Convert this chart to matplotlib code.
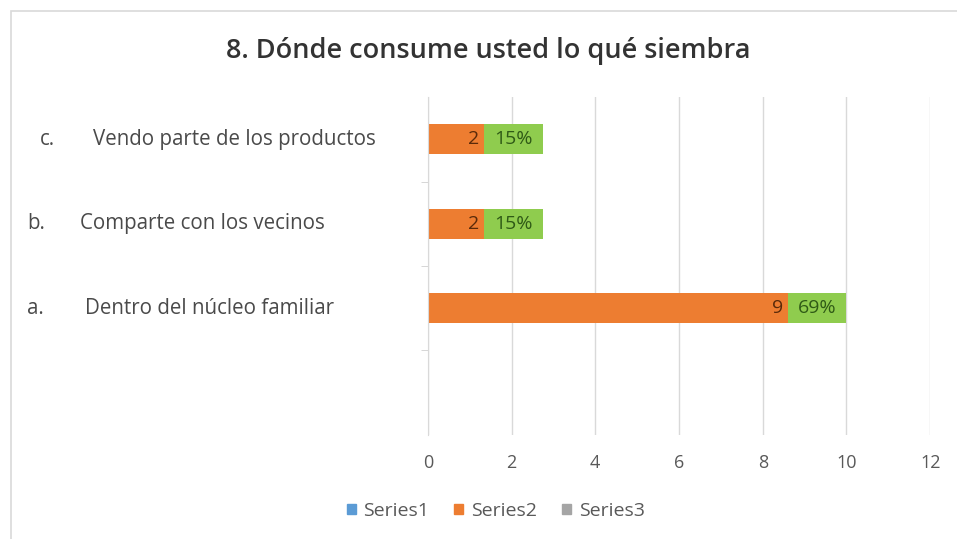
import matplotlib.pyplot as plt
import numpy as np
from matplotlib.patches import Rectangle

# data (bottom slot is empty in the original)
letters = ["", "a.", "b.", "c."]
categories = ["", "Dentro del núcleo familiar", "Comparte con los vecinos", "Vendo parte de los productos"]
series2 = [0, 8.6, 1.35, 1.35]
series3 = [0, 1.4, 1.4, 1.4]
labels2 = ["", "9", "2", "2"]
labels3 = ["", "69%", "15%", "15%"]
xticks = [0, 2, 4, 6, 8, 10, 12]

plt.rcParams['font.family'] = ['Open Sans', 'DejaVu Sans']

fig = plt.figure(figsize=(9.57, 5.39), dpi=100)
ax = fig.add_axes([0.447, 0.193, 0.525, 0.627])

y = np.arange(len(categories))
h = 0.36
ax.barh(y, series2, height=h, color="#ED7D31")
ax.barh(y, series3, left=series2, height=h, color="#8FCC4E")

for i in range(1, len(categories)):
    ax.text(series2[i] - 0.12, y[i], labels2[i], ha="right", va="center",
            fontsize=14, color="#5a2a0a")
    ax.text(series2[i] + series3[i] / 2, y[i], labels3[i], ha="center", va="center",
            fontsize=14, color="#2f5a16")

ax.set_xlim(0, 12)
ax.set_ylim(-0.5, 3.5)
ax.set_xticks(xticks)
ax.set_xticklabels([str(t) for t in xticks], fontsize=13, color="#595959")
ax.tick_params(axis="x", length=0, pad=14)
ax.set_yticks([])
ax.set_yticks([0.5, 1.5, 2.5], minor=True)
ax.tick_params(axis="y", which="minor", length=5, color="#d0d0d0")
ax.grid(axis="x", color="#d9d9d9", linewidth=1)
ax.set_axisbelow(True)
for s in ["top", "right", "bottom"]:
    ax.spines[s].set_visible(False)
ax.spines["left"].set_color("#d9d9d9")

# category labels, word-list style
letter_x = [0, 27, 27, 40]
text_x = [0, 85, 80, 93]
for i in range(1, len(categories)):
    yy = ax.transData.transform((0, y[i]))[1]
    fy = yy / fig.bbox.height
    fig.text(letter_x[i] / 957, fy, letters[i], ha="left", va="center", fontsize=14.8, color="#4a4a4a")
    fig.text(text_x[i] / 957, fy, categories[i], ha="left", va="center", fontsize=14.8, color="#4a4a4a")

fig.text(0.51, 0.905, "8. Dónde consume usted lo qué siembra", ha="center", va="center",
         fontsize=19.5, color="#333333", fontweight="semibold")

# legend
handles = [Rectangle((0, 0), 1, 1, color=c) for c in ["#5B9BD5", "#ED7D31", "#A5A5A5"]]
fig.legend(handles, ["Series1", "Series2", "Series3"], loc="center", bbox_to_anchor=(0.518, 0.052),
           ncol=3, frameon=False, fontsize=14, handlelength=0.45, handleheight=0.45,
           columnspacing=1.3, handletextpad=0.4, labelcolor="#595959")

# chart frame
fig.add_artist(Rectangle((0.011, -0.01), 1.0, 0.99, transform=fig.transFigure,
                         fill=False, edgecolor="#d9d9d9", linewidth=1.2))

fig.savefig("out.png", dpi=100)
